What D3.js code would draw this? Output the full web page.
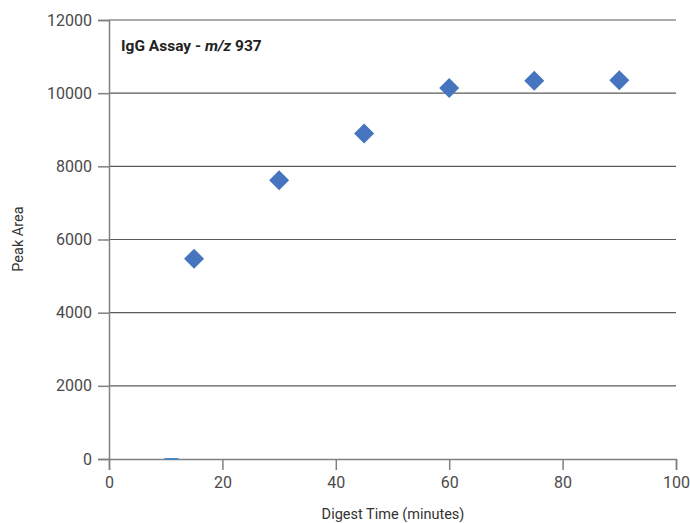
<!DOCTYPE html>
<html><head><meta charset="utf-8">
<script src="https://cdn.jsdelivr.net/npm/d3@7"></script>
<style>
body{margin:0;background:#fff;}
text{font-family:"Roboto","Liberation Sans",sans-serif;}
</style></head><body>
<svg id="c" width="690" height="523"></svg>
<script>
const digestTime = [15, 30, 45, 60, 75, 90];
const peakArea = [5475, 7620, 8900, 10140, 10340, 10350];
const zeroMarkX = [11];
const xTicks = [0, 20, 40, 60, 80, 100];
const yTicks = [0, 2000, 4000, 6000, 8000, 10000, 12000];

const svg = d3.select("#c");
const L = 109, R = 676, T = 20, B = 459;
const x = d3.scaleLinear().domain([0, 100]).range([L, R]);
const y = d3.scaleLinear().domain([0, 12000]).range([B, T]);

// gridlines
svg.append("g").selectAll("line").data(yTicks.filter(d => d > 0)).join("line")
  .attr("x1", L).attr("x2", R).attr("y1", d => y(d)).attr("y2", d => y(d))
  .attr("stroke", "#5a5a5a").attr("stroke-width", 1.2);

// y axis
const ya = svg.append("g").attr("transform", `translate(${L},0)`)
  .call(d3.axisLeft(y).tickValues(yTicks).tickSize(11).tickPadding(6).tickFormat(d3.format("d")));
ya.select(".domain").attr("stroke", "#808080").attr("stroke-width", 1.5);
ya.selectAll(".tick line").attr("stroke", "#808080").attr("stroke-width", 1.5);
ya.selectAll("text").attr("font-size", 16).attr("fill", "#4a4a4a");

// x axis
const xa = svg.append("g").attr("transform", `translate(0,${B})`)
  .call(d3.axisBottom(x).tickValues(xTicks).tickSize(11).tickPadding(7));
xa.select(".domain").attr("stroke", "#808080").attr("stroke-width", 1.5);
xa.selectAll(".tick line").attr("stroke", "#808080").attr("stroke-width", 1.5);
xa.selectAll("text").attr("font-size", 16).attr("fill", "#4a4a4a");

// zero marker dash
svg.append("g").selectAll("line").data(zeroMarkX).join("line")
  .attr("x1", d => x(d) - 7).attr("x2", d => x(d) + 7)
  .attr("y1", y(0)).attr("y2", y(0))
  .attr("stroke", "#4a86c0").attr("stroke-width", 2);

// points
const data = digestTime.map((t, i) => ({t, v: peakArea[i]}));
svg.append("g").selectAll("path").data(data).join("path")
  .attr("transform", d => `translate(${x(d.t)},${y(d.v)})`)
  .attr("d", "M0,-10L10,0L0,10L-10,0Z")
  .attr("fill", "#4674be");

// title
const t = svg.append("text").attr("x", 121).attr("y", 51)
  .attr("font-size", 15.5).attr("font-weight", "bold").attr("fill", "#222");
t.append("tspan").text("IgG Assay - ");
t.append("tspan").attr("font-style", "italic").text("m/z");
t.append("tspan").text(" 937");

// axis titles
svg.append("text").attr("x", 393).attr("y", 519).attr("text-anchor", "middle")
  .attr("font-size", 14.5).attr("fill", "#333").text("Digest Time (minutes)");
svg.append("text").attr("transform", "translate(23,239) rotate(-90)").attr("text-anchor", "middle")
  .attr("font-size", 14.5).attr("fill", "#333").text("Peak Area");
</script></body></html>
